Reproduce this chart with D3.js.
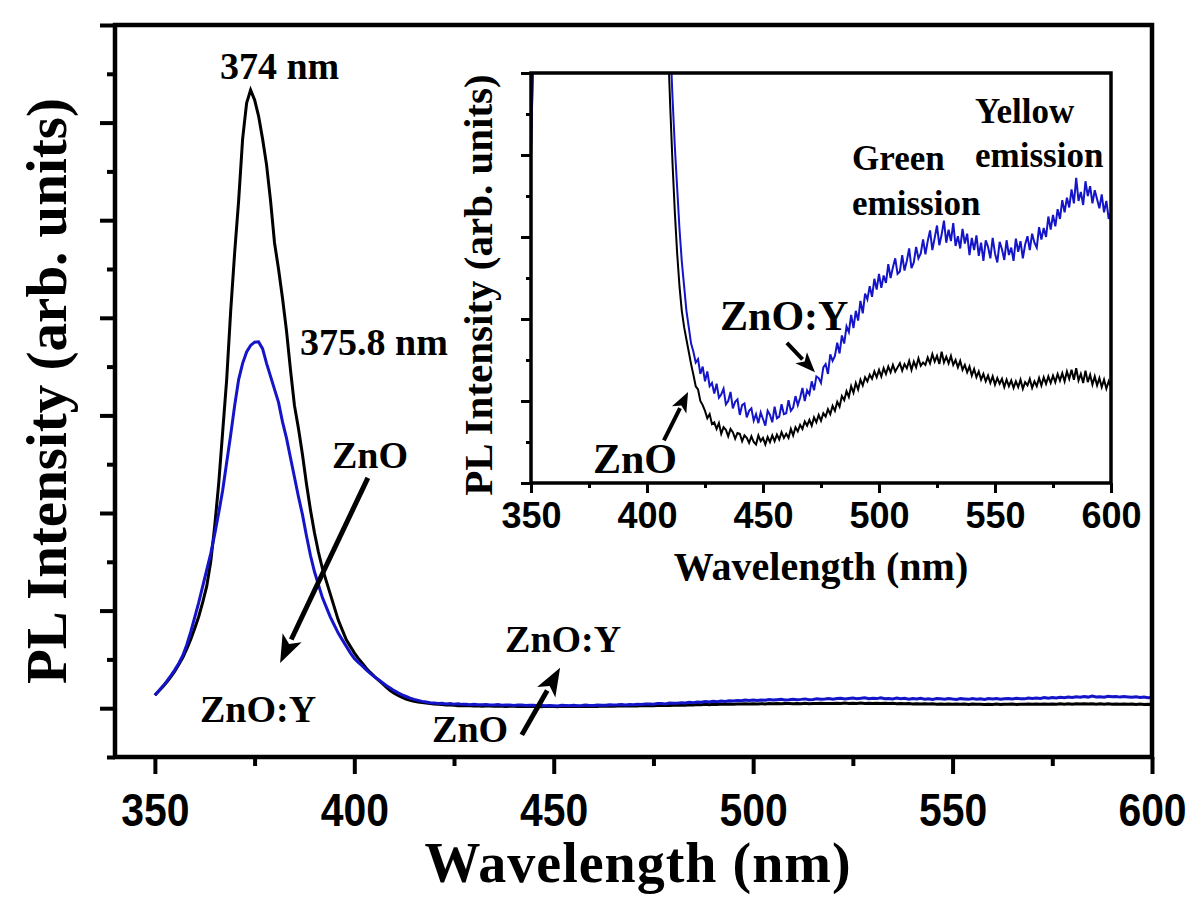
<!DOCTYPE html>
<html>
<head>
<meta charset="utf-8">
<script src="https://cdn.jsdelivr.net/npm/d3@7"></script>
<style>
body{margin:0;background:#fff}
svg{display:block}
</style>
</head>
<body>
<svg id="chart" width="1200" height="901"></svg>
<script>
// wavelength grid, 1 nm steps
var wavelengths = d3.range(350, 601)

// PL intensity (arb. units) of undoped ZnO, 350..600 nm
var zno = [
 4.0, 5.3, 6.6, 8.0, 9.6, 11.4, 13.4, 15.6, 18.2, 21.2,
 24.6, 28.2, 32.6, 37.5, 45, 56, 69, 85, 101, 122,
 140, 156, 175, 186, 190, 187, 182, 175, 167, 156,
 143, 135, 126, 116, 104, 93, 86, 78, 69, 61,
 54, 48, 43, 39, 35, 31, 27, 24, 21, 19,
 17, 15.3, 13.8, 12.3, 11, 9.8, 8.7, 7.6, 6.5, 5.4,
 4.6, 3.9, 3.3, 2.8, 2.4, 2.1, 1.9, 1.75, 1.6, 1.45,
 1.32, 1.18, 1.14, 1.00, 0.95, 0.88, 0.79, 0.84, 0.72, 0.74,
 0.66, 0.73, 0.60, 0.68, 0.65, 0.57, 0.66, 0.62, 0.54, 0.61,
 0.60, 0.51, 0.58, 0.55, 0.49, 0.57, 0.50, 0.47, 0.58, 0.51,
 0.55, 0.47, 0.56, 0.50, 0.58, 0.51, 0.59, 0.53, 0.62, 0.55,
 0.60, 0.55, 0.66, 0.58, 0.68, 0.63, 0.71, 0.66, 0.75, 0.70,
 0.77, 0.70, 0.80, 0.74, 0.83, 0.76, 0.85, 0.81, 0.90, 0.84,
 0.94, 0.88, 0.99, 0.93, 1.06, 1.01, 1.12, 1.05, 1.18, 1.10,
 1.22, 1.14, 1.26, 1.19, 1.29, 1.24, 1.32, 1.27, 1.36, 1.29,
 1.38, 1.30, 1.40, 1.33, 1.42, 1.35, 1.44, 1.36, 1.41, 1.46,
 1.37, 1.45, 1.40, 1.49, 1.38, 1.48, 1.41, 1.52, 1.43, 1.47,
 1.44, 1.53, 1.46, 1.57, 1.48, 1.55, 1.45, 1.60, 1.47, 1.54,
 1.46, 1.55, 1.44, 1.50, 1.41, 1.49, 1.38, 1.44, 1.35, 1.42,
 1.31, 1.39, 1.29, 1.36, 1.26, 1.33, 1.24, 1.31, 1.22, 1.30,
 1.20, 1.28, 1.21, 1.27, 1.17, 1.26, 1.18, 1.25, 1.16, 1.24,
 1.17, 1.26, 1.15, 1.23, 1.19, 1.27, 1.16, 1.24, 1.18, 1.28,
 1.19, 1.29, 1.21, 1.30, 1.22, 1.31, 1.23, 1.33, 1.25, 1.34,
 1.24, 1.36, 1.27, 1.38, 1.26, 1.40, 1.25, 1.33, 1.22, 1.37,
 1.23, 1.32, 1.20, 1.30, 1.19, 1.28, 1.17, 1.26, 1.15, 1.24,
 1.17
]

// PL intensity of Y-doped ZnO, 350..600 nm
var znoY = [
 4.0, 5.4, 6.8, 8.3, 10.0, 11.8, 13.8, 16.2, 19.5, 23.5,
 28, 32.5, 37.5, 42.5, 47.5, 53.5, 60, 67, 75.5, 84,
 93, 101, 106, 109.5, 111.5, 112.5, 112.6, 110.5, 106, 102,
 98, 94, 88, 83, 77, 71, 65, 59.5, 53, 47,
 42, 38, 34, 31, 28, 25.5, 23, 21, 19, 17,
 15.3, 14.1, 13.0, 11.8, 10.7, 9.7, 8.8, 7.9, 7.0, 6.2,
 5.4, 4.7, 4.1, 3.6, 3.1, 2.7, 2.4, 2.1, 1.9, 1.7,
 1.60, 1.47, 1.51, 1.33, 1.42, 1.24, 1.36, 1.18, 1.22, 1.09,
 1.21, 1.04, 1.08, 1.15, 0.96, 1.00, 1.11, 0.91, 0.99, 1.02,
 0.83, 0.95, 0.97, 0.80, 0.88, 0.91, 0.76, 0.84, 0.73, 0.86,
 0.78, 0.70, 0.88, 0.83, 0.74, 0.93, 0.79, 0.81, 0.96, 0.84,
 0.85, 1.01, 0.88, 0.92, 1.06, 0.95, 1.04, 1.16, 1.00, 1.13,
 1.08, 1.24, 1.13, 1.30, 1.28, 1.22, 1.41, 1.45, 1.33, 1.57,
 1.49, 1.55, 1.71, 1.58, 1.80, 1.70, 1.91, 1.84, 2.05, 1.89,
 2.10, 1.98, 2.22, 2.07, 2.31, 2.24, 2.40, 2.27, 2.49, 2.36,
 2.55, 2.38, 2.53, 2.44, 2.67, 2.50, 2.63, 2.74, 2.55, 2.58,
 2.78, 2.59, 2.71, 2.86, 2.62, 2.69, 2.88, 2.74, 2.80, 2.97,
 2.79, 2.95, 3.08, 2.84, 2.99, 3.14, 2.90, 3.03, 3.20, 2.93,
 3.09, 2.95, 3.17, 2.89, 3.01, 2.86, 3.10, 2.92, 3.04, 2.78,
 2.99, 2.84, 3.02, 2.77, 2.93, 2.71, 2.96, 2.88, 2.74, 2.99,
 2.80, 2.69, 2.94, 2.85, 2.72, 2.96, 2.78, 2.87, 2.71, 2.98,
 2.82, 2.95, 2.74, 2.91, 3.01, 2.84, 3.04, 2.93, 2.87, 3.12,
 2.97, 3.11, 3.00, 3.25, 3.09, 3.27, 3.13, 3.34, 3.22, 3.45,
 3.30, 3.48, 3.36, 3.58, 3.41, 3.72, 3.44, 3.55, 3.39, 3.68,
 3.50, 3.62, 3.41, 3.57, 3.46, 3.35, 3.52, 3.30, 3.44, 3.22,
 3.30
]

var mainXTicks = [350, 400, 450, 500, 550, 600]
var mainXMinor = [375, 425, 475, 525, 575]
var mainYTicks = [0, 30, 60, 90, 120, 150, 180, 210]
var mainYMinor = [-15, 15, 45, 75, 105, 135, 165, 195]
var insetXTicks = [350, 400, 450, 500, 550, 600]
var insetXMinor = [375, 425, 475, 525, 575]
var insetYTicks = [0, 1, 2, 3, 4, 5]
var insetYMinor = [0.5, 1.5, 2.5, 3.5, 4.5]

// annotations, in data units (wavelength, intensity)
var mainLabels = [
  {text: "374 nm", x: 366.3, y: 193.5},
  {text: "375.8 nm", x: 386.4, y: 108.6},
  {text: "ZnO", x: 394.4, y: 73.8},
  {text: "ZnO:Y", x: 361.3, y: -4.2},
  {text: "ZnO:Y", x: 437.8, y: 17.3},
  {text: "ZnO", x: 419.5, y: -10.4}
]
var mainArrows = [
  {x1: 403.4, y1: 70.8, x2: 381.4, y2: 13.9},
  {x1: 442.0, y1: -8.2, x2: 451.6, y2: 12.4}
]
var insetLabels = [
  {text: "ZnO:Y", x: 431.5, y: 1.87, size: 42},
  {text: "ZnO", x: 376.7, y: 0.12, size: 42},
  {text: "Green", x: 488.4, y: 3.82, size: 35},
  {text: "emission", x: 488.4, y: 3.27, size: 35},
  {text: "Yellow", x: 541.4, y: 4.39, size: 35},
  {text: "emission", x: 541.4, y: 3.85, size: 35}
]
var insetArrows = [
  {x1: 460.3, y1: 1.71, x2: 472.4, y2: 1.35},
  {x1: 407.3, y1: 0.52, x2: 417.7, y2: 1.11}
]

var serif = "'Liberation Serif','Times New Roman',serif"
var sans = "'Liberation Sans',Arial,sans-serif"
var blue = "#1414c8"

var svg = d3.select("#chart")
svg.append("rect").attr("width", 1200).attr("height", 901).attr("fill", "#fff")

var rows = wavelengths.map(function(w, i){ return {w: w, a: zno[i], b: znoY[i]} })

function draw_arrow(g, x1, y1, x2, y2, lw, hl, hw){
    var dx = x2 - x1, dy = y2 - y1
    var len = Math.sqrt(dx*dx + dy*dy)
    var ux = dx/len, uy = dy/len
    var bx = x2 - ux*hl, by = y2 - uy*hl
    g.append("line")
        .attr("x1", x1).attr("y1", y1)
        .attr("x2", bx + ux*2).attr("y2", by + uy*2)
        .attr("stroke", "#000").attr("stroke-width", lw)
    g.append("path")
        .attr("d", "M" + x2 + "," + y2 +
            "L" + (bx - uy*hw/2) + "," + (by + ux*hw/2) +
            "L" + (bx + ux*hl*0.25) + "," + (by + uy*hl*0.25) +
            "L" + (bx + uy*hw/2) + "," + (by - ux*hw/2) + "Z")
        .attr("fill", "#000")
}

function tick_axis(g, axis, width){
    g.call(axis)
    g.select(".domain").remove()
    g.selectAll(".tick line").attr("stroke", "#000").attr("stroke-width", width)
}

// ---------------- main plot ----------------
var x = d3.scaleLinear().domain([340, 600]).range([115, 1152])
var y = d3.scaleLinear().domain([-15, 210]).range([757, 25])

var main = svg.append("g")

var lineA = d3.line().x(function(d){ return x(d.w) }).y(function(d){ return y(d.a) })
var lineB = d3.line().x(function(d){ return x(d.w) }).y(function(d){ return y(d.b) })

main.append("path").datum(rows).attr("d", lineA)
    .attr("fill", "none").attr("stroke", "#000").attr("stroke-width", 3)
main.append("path").datum(rows).attr("d", lineB)
    .attr("fill", "none").attr("stroke", blue).attr("stroke-width", 3)

var gx = main.append("g").attr("transform", "translate(0," + y(-15) + ")")
tick_axis(gx, d3.axisBottom(x).tickValues(mainXTicks).tickSize(17).tickFormat(d3.format("d")), 4)
gx.selectAll(".tick text")
    .attr("y", 69).attr("dy", 0)
    .attr("font-family", sans).attr("font-weight", "bold").attr("font-size", 47)
    .attr("transform", "scale(0.87,1)").attr("fill", "#000")
var gxm = main.append("g").attr("transform", "translate(0," + y(-15) + ")")
tick_axis(gxm, d3.axisBottom(x).tickValues(mainXMinor).tickSize(9).tickFormat(""), 4)

var gy = main.append("g").attr("transform", "translate(" + x(340) + ",0)")
tick_axis(gy, d3.axisLeft(y).tickValues(mainYTicks).tickSize(15).tickFormat(""), 4)
var gym = main.append("g").attr("transform", "translate(" + x(340) + ",0)")
tick_axis(gym, d3.axisLeft(y).tickValues(mainYMinor).tickSize(8).tickFormat(""), 4)

main.append("rect")
    .attr("x", x(340)).attr("y", y(210))
    .attr("width", x(600) - x(340)).attr("height", y(-15) - y(210))
    .attr("fill", "none").attr("stroke", "#000").attr("stroke-width", 4.5)

main.selectAll("text.ann").data(mainLabels).enter().append("text")
    .attr("class", "ann")
    .attr("x", function(d){ return x(d.x) }).attr("y", function(d){ return y(d.y) })
    .attr("font-family", serif).attr("font-weight", "bold").attr("font-size", 38)
    .text(function(d){ return d.text })

mainArrows.forEach(function(a){
    draw_arrow(main, x(a.x1), y(a.y1), x(a.x2), y(a.y2), 5, 28, 21)
})

main.append("text")
    .attr("x", 638).attr("y", 882)
    .attr("text-anchor", "middle")
    .attr("font-family", serif).attr("font-weight", "bold").attr("font-size", 56)
    .attr("letter-spacing", 1)
    .text("Wavelength (nm)")

main.append("text")
    .attr("transform", "translate(66," + ((y(-15) + y(210))/2) + ") rotate(-90)")
    .attr("text-anchor", "middle")
    .attr("font-family", serif).attr("font-weight", "bold").attr("font-size", 57)
    .text("PL Intensity (arb. units)")

// ---------------- inset ----------------
var ix = d3.scaleLinear().domain([350, 600]).range([531, 1111])
var iy = d3.scaleLinear().domain([0, 5]).range([483, 73])

var inset = svg.append("g")
inset.append("rect")
    .attr("x", ix(350)).attr("y", iy(5))
    .attr("width", ix(600) - ix(350)).attr("height", iy(0) - iy(5))
    .attr("fill", "#fff")

svg.append("clipPath").attr("id", "inset-clip").append("rect")
    .attr("x", ix(350)).attr("y", iy(5))
    .attr("width", ix(600) - ix(350)).attr("height", iy(0) - iy(5))

var ilineA = d3.line().x(function(d){ return ix(d.w) }).y(function(d){ return iy(d.a) })
var ilineB = d3.line().x(function(d){ return ix(d.w) }).y(function(d){ return iy(d.b) })

var curves = inset.append("g").attr("clip-path", "url(#inset-clip)")
curves.append("path").datum(rows).attr("d", ilineA)
    .attr("fill", "none").attr("stroke", "#000").attr("stroke-width", 2)
curves.append("path").datum(rows).attr("d", ilineB)
    .attr("fill", "none").attr("stroke", blue).attr("stroke-width", 2)

var igx = inset.append("g").attr("transform", "translate(0," + iy(0) + ")")
tick_axis(igx, d3.axisBottom(ix).tickValues(insetXTicks).tickSize(10).tickFormat(d3.format("d")), 3)
igx.selectAll(".tick text")
    .attr("y", 45).attr("dy", 0)
    .attr("font-family", sans).attr("font-weight", "bold").attr("font-size", 36)
    .attr("fill", "#000")
var igxm = inset.append("g").attr("transform", "translate(0," + iy(0) + ")")
tick_axis(igxm, d3.axisBottom(ix).tickValues(insetXMinor).tickSize(5).tickFormat(""), 3)

var igy = inset.append("g").attr("transform", "translate(" + ix(350) + ",0)")
tick_axis(igy, d3.axisLeft(iy).tickValues(insetYTicks).tickSize(10).tickFormat(""), 3)
var igym = inset.append("g").attr("transform", "translate(" + ix(350) + ",0)")
tick_axis(igym, d3.axisLeft(iy).tickValues(insetYMinor).tickSize(5).tickFormat(""), 3)

inset.append("rect")
    .attr("x", ix(350)).attr("y", iy(5))
    .attr("width", ix(600) - ix(350)).attr("height", iy(0) - iy(5))
    .attr("fill", "none").attr("stroke", "#000").attr("stroke-width", 3.5)

inset.selectAll("text.ann").data(insetLabels).enter().append("text")
    .attr("class", "ann")
    .attr("x", function(d){ return ix(d.x) }).attr("y", function(d){ return iy(d.y) })
    .attr("font-family", serif).attr("font-weight", "bold")
    .attr("font-size", function(d){ return d.size })
    .text(function(d){ return d.text })

insetArrows.forEach(function(a){
    draw_arrow(inset, ix(a.x1), iy(a.y1), ix(a.x2), iy(a.y2), 4, 20, 16)
})

inset.append("text")
    .attr("x", (ix(350) + ix(600))/2).attr("y", 580)
    .attr("text-anchor", "middle")
    .attr("font-family", serif).attr("font-weight", "bold").attr("font-size", 40)
    .text("Wavelength (nm)")

inset.append("text")
    .attr("transform", "translate(492,285) rotate(-90)")
    .attr("text-anchor", "middle")
    .attr("font-family", serif).attr("font-weight", "bold").attr("font-size", 41)
    .text("PL Intensity (arb. units)")
</script>
</body>
</html>
